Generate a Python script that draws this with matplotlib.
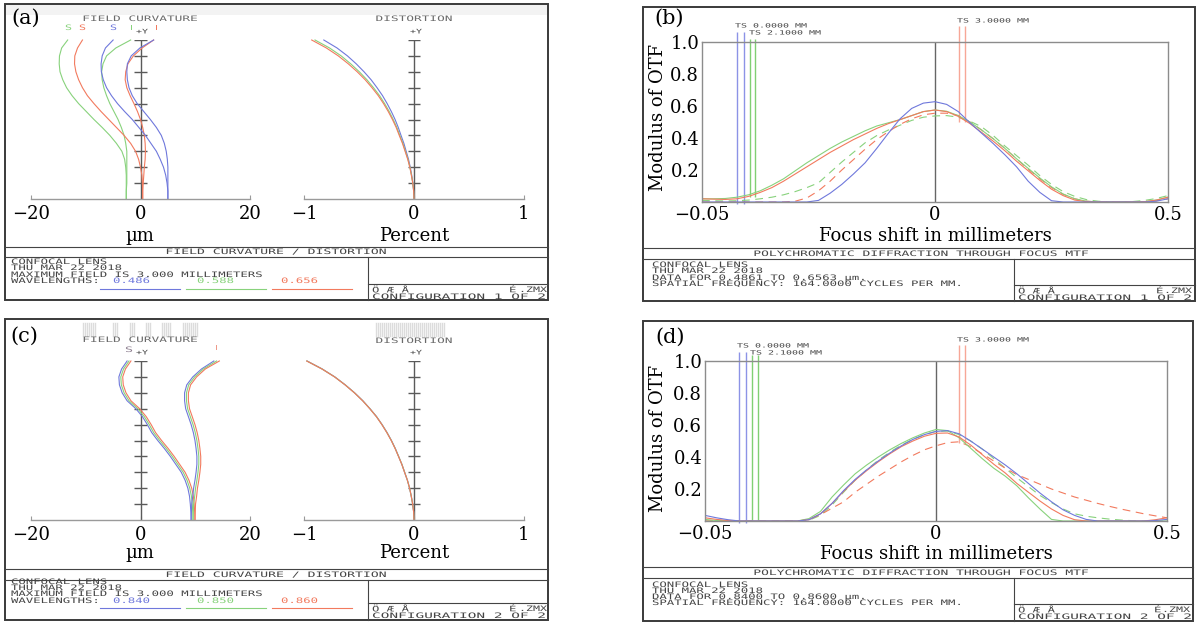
import numpy as np
import matplotlib
matplotlib.use('Agg')
import matplotlib.pyplot as plt
import matplotlib.patheffects as pe
from matplotlib.transforms import Affine2D
from matplotlib.patches import Rectangle
from matplotlib.lines import Line2D

# ---------------- values ----------------
field = [0.0, 0.05, 0.1, 0.15, 0.2, 0.25, 0.3, 0.35, 0.4, 0.45, 0.5,
         0.55, 0.6, 0.65, 0.7, 0.75, 0.8, 0.85, 0.9, 0.95, 1.0]   # relative +Y field

# (a) configuration 1, field curvature [um]
fc1_blue_S = [5.0, 5.0, 4.85, 4.6, 4.2, 3.6, 2.9, 1.9, 0.9, -0.3, -1.5,
              -2.9, -4.2, -5.3, -6.2, -6.8, -7.15, -7.2, -7.0, -6.4, -5.0]
fc1_blue_T = [5.0, 5.0, 5.0, 5.0, 5.0, 4.9, 4.7, 4.35, 3.8, 2.9, 1.8,
              0.6, -0.6, -1.5, -2.1, -2.4, -2.5, -2.4, -1.7, -0.1, 2.4]
fc1_green_S = [-2.6, -2.6, -2.6, -2.6, -2.7, -2.9, -3.4, -4.4, -5.6, -7.0, -8.5,
               -9.9, -11.3, -12.5, -13.5, -14.2, -14.7, -14.85, -14.8, -14.4, -13.3]
fc1_green_T = [-2.6, -2.6, -2.5, -2.5, -2.5, -2.5, -2.5, -2.7, -3.0, -3.5, -4.1,
               -4.85, -5.6, -6.2, -6.7, -7.0, -7.1, -6.85, -6.2, -4.5, -1.8]
fc1_red_S = [0.4, 0.4, 0.35, 0.25, 0.0, -0.35, -0.9, -1.8, -3.0, -4.4, -5.8,
             -7.2, -8.5, -9.7, -10.6, -11.3, -11.8, -12.05, -12.0, -11.5, -10.6]
fc1_red_T = [0.4, 0.4, 0.5, 0.6, 0.7, 0.85, 0.9, 0.85, 0.7, 0.4, 0.0,
             -0.55, -1.2, -1.9, -2.5, -2.8, -2.7, -2.3, -1.3, 0.3, 2.4]

# (a) configuration 1, distortion [%]
dist1_blue = [0, -0.003, -0.01, -0.021, -0.034, -0.05, -0.071, -0.092, -0.118, -0.143, -0.172,
              -0.206, -0.244, -0.286, -0.336, -0.39, -0.454, -0.525, -0.605, -0.70, -0.82]
dist1_green = [0, -0.003, -0.011, -0.023, -0.037, -0.055, -0.078, -0.101, -0.129, -0.156, -0.189,
               -0.225, -0.267, -0.313, -0.368, -0.428, -0.497, -0.575, -0.662, -0.768, -0.90]
dist1_red = [0, -0.003, -0.011, -0.024, -0.038, -0.057, -0.081, -0.105, -0.134, -0.162, -0.196,
             -0.234, -0.277, -0.325, -0.382, -0.444, -0.516, -0.597, -0.688, -0.797, -0.93]

# (c) configuration 2, field curvature [um]
fc2_blue_S = [9.25, 9.2, 9.1, 8.95, 8.65, 8.15, 7.45, 6.45, 5.45, 4.35, 3.15,
              2.05, 1.25, 0.35, -0.85, -2.45, -3.35, -3.85, -3.95, -3.45, -2.45]
fc2_green_S = [9.6, 9.55, 9.45, 9.3, 9.0, 8.5, 7.8, 6.8, 5.8, 4.7, 3.5,
               2.4, 1.6, 0.7, -0.5, -2.1, -3.0, -3.5, -3.6, -3.1, -2.1]
fc2_red_S = [9.95, 9.9, 9.8, 9.65, 9.35, 8.85, 8.15, 7.15, 6.15, 5.05, 3.85,
             2.75, 1.95, 1.05, -0.15, -1.75, -2.65, -3.15, -3.25, -2.75, -1.75]
fc2_blue_T = [9.25, 9.3, 9.35, 9.55, 9.7, 9.95, 10.15, 10.3, 10.3, 10.15, 9.95,
              9.65, 9.25, 8.75, 8.25, 8.05, 8.05, 8.45, 9.55, 11.15, 13.4]
fc2_green_T = [9.6, 9.65, 9.7, 9.9, 10.05, 10.3, 10.5, 10.65, 10.65, 10.5, 10.3,
               10.0, 9.6, 9.1, 8.6, 8.4, 8.4, 8.8, 9.9, 11.5, 13.9]
fc2_red_T = [9.95, 10.0, 10.05, 10.25, 10.4, 10.65, 10.85, 11.0, 11.0, 10.85, 10.65,
             10.35, 9.95, 9.45, 8.95, 8.75, 8.75, 9.15, 10.25, 11.85, 14.4]

# (c) configuration 2, distortion [%]
dist2_blue = [0, -0.003, -0.012, -0.025, -0.04, -0.06, -0.085, -0.11, -0.14, -0.17, -0.205,
              -0.245, -0.29, -0.34, -0.40, -0.465, -0.54, -0.625, -0.72, -0.835, -0.972]
dist2_green = [0, -0.003, -0.012, -0.025, -0.04, -0.06, -0.085, -0.11, -0.14, -0.171, -0.206,
               -0.246, -0.291, -0.341, -0.401, -0.466, -0.541, -0.626, -0.721, -0.836, -0.974]
dist2_red = [0, -0.003, -0.012, -0.025, -0.04, -0.06, -0.086, -0.111, -0.141, -0.172, -0.207,
             -0.247, -0.292, -0.342, -0.402, -0.467, -0.542, -0.627, -0.722, -0.837, -0.975]

# through-focus MTF, focus shift samples (plotted axis runs -0.5 .. 0.5)
focus = [-0.5, -0.475, -0.45, -0.425, -0.4, -0.375, -0.35, -0.325, -0.3, -0.275, -0.25,
         -0.225, -0.2, -0.175, -0.15, -0.125, -0.1, -0.075, -0.05, -0.025, 0.0,
         0.025, 0.05, 0.075, 0.1, 0.125, 0.15, 0.175, 0.2, 0.225, 0.25,
         0.275, 0.3, 0.325, 0.35, 0.375, 0.4, 0.425, 0.45, 0.475, 0.5]

mtf1_blue = [0, 0, 0, 0, 0, 0, 0, 0, 0, 0, 0.01,
             0.055, 0.11, 0.175, 0.245, 0.335, 0.43, 0.52, 0.585, 0.618, 0.627,
             0.61, 0.565, 0.495, 0.43, 0.365, 0.295, 0.22, 0.13, 0.06, 0.008,
             0, 0, 0, 0, 0, 0, 0, 0, 0.005, 0.02]
mtf1_green = [0.02, 0.02, 0.022, 0.03, 0.045, 0.07, 0.105, 0.145, 0.195, 0.245, 0.29,
              0.335, 0.375, 0.41, 0.445, 0.475, 0.495, 0.515, 0.54, 0.565, 0.575,
              0.567, 0.54, 0.5, 0.45, 0.395, 0.335, 0.27, 0.21, 0.15, 0.095,
              0.05, 0.02, 0.005, 0, 0, 0, 0, 0.002, 0.012, 0.03]
mtf1_green_d = [0.01, 0.008, 0.006, 0.008, 0.012, 0.02, 0.03, 0.045, 0.065, 0.09, 0.12,
                0.185, 0.25, 0.31, 0.37, 0.415, 0.45, 0.48, 0.51, 0.53, 0.538,
                0.54, 0.53, 0.505, 0.47, 0.415, 0.35, 0.29, 0.23, 0.165, 0.11,
                0.065, 0.035, 0.015, 0.005, 0, 0, 0.003, 0.01, 0.022, 0.04]
mtf1_red = [0.02, 0.018, 0.016, 0.02, 0.035, 0.06, 0.09, 0.13, 0.175, 0.22, 0.265,
            0.31, 0.35, 0.39, 0.425, 0.46, 0.49, 0.515, 0.54, 0.565, 0.575,
            0.565, 0.535, 0.49, 0.435, 0.38, 0.32, 0.255, 0.195, 0.135, 0.08,
            0.04, 0.012, 0.002, 0, 0, 0, 0, 0.002, 0.012, 0.03]
mtf1_red_d = [0, 0, 0, 0, 0, 0, 0, 0, 0.005, 0.025, 0.07,
              0.13, 0.2, 0.265, 0.33, 0.39, 0.44, 0.485, 0.52, 0.545, 0.555,
              0.555, 0.54, 0.5, 0.45, 0.395, 0.335, 0.27, 0.205, 0.145, 0.09,
              0.048, 0.02, 0.005, 0, 0, 0, 0, 0, 0.008, 0.02]

mtf2_blue = [0.035, 0.02, 0.008, 0, 0, 0, 0, 0, 0, 0.008, 0.045,
             0.11, 0.19, 0.26, 0.32, 0.375, 0.425, 0.47, 0.51, 0.54, 0.56,
             0.565, 0.545, 0.5, 0.45, 0.4, 0.35, 0.295, 0.235, 0.175, 0.12,
             0.07, 0.035, 0.01, 0, 0, 0, 0, 0, 0.003, 0.01]
mtf2_green = [0.01, 0.003, 0, 0, 0, 0, 0, 0, 0, 0.015, 0.06,
              0.15, 0.225, 0.295, 0.35, 0.4, 0.445, 0.485, 0.52, 0.55, 0.572,
              0.565, 0.52, 0.455, 0.39, 0.33, 0.28, 0.22, 0.145, 0.075, 0.01,
              0, 0, 0, 0, 0, 0, 0, 0, 0, 0]
mtf2_green_d = [0, 0, 0, 0, 0, 0, 0, 0, 0, 0.005, 0.035,
                0.1, 0.18, 0.255, 0.32, 0.38, 0.43, 0.475, 0.51, 0.54, 0.56,
                0.562, 0.54, 0.5, 0.45, 0.39, 0.33, 0.27, 0.215, 0.16, 0.115,
                0.075, 0.045, 0.03, 0.02, 0.012, 0.006, 0.002, 0, 0, 0]
mtf2_red = [0.02, 0.01, 0.003, 0, 0, 0, 0, 0, 0, 0.008, 0.045,
            0.11, 0.185, 0.255, 0.315, 0.37, 0.42, 0.465, 0.5, 0.53, 0.548,
            0.55, 0.525, 0.475, 0.415, 0.355, 0.3, 0.235, 0.18, 0.125, 0.075,
            0.035, 0.008, 0, 0, 0, 0, 0, 0, 0.008, 0.02]
mtf2_red_d = [0, 0, 0, 0, 0, 0, 0, 0, 0, 0.01, 0.04,
              0.08, 0.12, 0.18, 0.23, 0.28, 0.325, 0.37, 0.41, 0.445, 0.47,
              0.49, 0.495, 0.465, 0.42, 0.375, 0.33, 0.29, 0.26, 0.23, 0.2,
              0.175, 0.15, 0.13, 0.11, 0.092, 0.075, 0.06, 0.045, 0.032, 0.02]

# best-focus markers (TS 0.0 / 2.1 / 3.0 mm) and where they stop
ts1_blue, ts1_green, ts1_red = [-0.425, -0.41], [-0.397, -0.386], [0.0515, 0.064]
ts2_blue, ts2_green, ts2_red = [-0.426, -0.411], [-0.399, -0.385], [0.05, 0.062]
ts1_ends = [-0.01, 0.03, 0.5]
ts2_ends = [-0.01, 0.0, 0.49]

fc_ticks, fc_labels = [-20, 0, 20], ['\u221220', '0', '20']
dist_ticks, dist_labels = [-1, 0, 1], ['\u22121', '0', '1']
mtf_xticks, mtf_xlabels = [-0.5, 0, 0.5], ['\u22120.05', '0', '0.5']
mtf_yticks, mtf_ylabels = [0.2, 0.4, 0.6, 0.8, 1.0], ['0.2', '0.4', '0.6', '0.8', '1.0']

BLUE, GREEN, RED = '#6f78dc', '#88d27c', '#f27a5e'
LBLUE, LGREEN, LRED = '#8c93e6', '#80cf73', '#f7a797'
ZGRAY = '#444444'

# ---------------- figure helpers ----------------
W, H = 1202, 624
plt.rcParams['font.family'] = 'DejaVu Serif'
fig = plt.figure(figsize=(W / 100, H / 100), dpi=100)


def X(px):
    return px / W


def Y(py):
    return 1 - py / H


def add_ax(left, top, right, bottom):
    ax = fig.add_axes([X(left), Y(bottom), (right - left) / W, (bottom - top) / H])
    ax.patch.set_alpha(0)
    return ax


def hline(x0, x1, y, color=ZGRAY, lw=0.8):
    fig.add_artist(Line2D([X(x0), X(x1)], [Y(y), Y(y)], color=color, lw=lw))


def vline(x, y0, y1, color=ZGRAY, lw=0.8):
    fig.add_artist(Line2D([X(x), X(x)], [Y(y0), Y(y1)], color=color, lw=lw))


def frame(x0, y0, x1, y1):
    fig.add_artist(Rectangle((X(x0), Y(y1)), X(x1) - X(x0), Y(y0) - Y(y1),
                             fill=False, ec='#3a3a3a', lw=1.4))


class Stretch(pe.AbstractPathEffect):
    # widens the glyphs of a text around its start point (Zemax plotter font)
    def __init__(self, sx):
        super().__init__()
        self.sx = sx

    def draw_path(self, renderer, gc, tpath, affine, rgbFace=None):
        m = affine.get_matrix()
        tx, ty = m[0, 2], m[1, 2]
        a = affine + Affine2D().translate(-tx, -ty).scale(self.sx, 1).translate(tx, ty)
        renderer.draw_path(gc, tpath, a, rgbFace)


def ztext(x, y, s, color=ZGRAY, pitch=7.4, size=5.4, ha='left'):
    adv = 0.602 * size * 100 / 72
    if ha == 'center':
        x = x - pitch * len(s) / 2
    elif ha == 'right':
        x = x - pitch * len(s)
    fig.text(X(x), Y(y), s, fontsize=size, family='DejaVu Sans Mono', color=color,
             ha='left', va='center', path_effects=[Stretch(pitch / adv)])


def serif(x, y, s, size=13, **kw):
    fig.text(X(x), Y(y), s, fontsize=size, ha='center', va='center', color='black', **kw)


def field_axes(left, top, right, lim, ticks, labels, half):
    ax = add_ax(left, top, right, top + 159)
    ax.set_xlim(-lim, lim)
    ax.set_ylim(0, 1)
    for s in ['left', 'right', 'top']:
        ax.spines[s].set_visible(False)
    ax.spines['bottom'].set_color('#9a9a9a')
    ax.spines['bottom'].set_linewidth(1)
    ax.set_yticks([])
    ax.set_xticks(ticks)
    ax.set_xticklabels(labels)
    ax.tick_params(axis='x', direction='in', length=3, color='#9a9a9a', labelsize=13, pad=4)
    ax.axvline(0, color='#5a5a5a', lw=1)
    ax.hlines(np.arange(0.1, 1.01, 0.1), -half, half, color='#5a5a5a', lw=1)
    return ax


def mtf_axes(left, top, right, bottom):
    ax = add_ax(left, top, right, bottom)
    ax.set_xlim(-0.5, 0.5)
    ax.set_ylim(0, 1)
    for s in ax.spines.values():
        s.set_color('#8c8c8c')
        s.set_linewidth(1)
    ax.set_xticks(mtf_xticks)
    ax.set_xticklabels(mtf_xlabels)
    ax.set_yticks(mtf_yticks)
    ax.set_yticklabels(mtf_ylabels)
    ax.tick_params(length=0, labelsize=13)
    ax.tick_params(axis='x', pad=3)
    ax.tick_params(axis='y', pad=2)
    ax.axvline(0, color='#666666', lw=1)
    return ax


lw = 0.8
dash = (0, (7, 5))

# ---------------- (a) ----------------
fig.add_artist(Rectangle((X(6), Y(15)), X(547) - X(6), Y(5) - Y(15), color='#f3f3f3', lw=0))
frame(5, 4, 548, 300)
serif(26, 18, '(a)', size=15)
ax = field_axes(31, 40, 250, 20, fc_ticks, fc_labels, 1.1)
for vals, c in [(fc1_green_S, GREEN), (fc1_green_T, GREEN), (fc1_red_S, RED),
                (fc1_red_T, RED), (fc1_blue_S, BLUE), (fc1_blue_T, BLUE)]:
    ax.plot(vals, field, color=c, lw=lw, clip_on=False)
serif(140, 236, '\u00b5m')
ax = field_axes(304, 40, 524, 1, dist_ticks, dist_labels, 0.055)
for vals, c in [(dist1_blue, BLUE), (dist1_green, GREEN), (dist1_red, RED)]:
    ax.plot(vals, field, color=c, lw=lw, clip_on=False)
serif(414, 236, 'Percent')
ztext(140, 19, 'FIELD CURVATURE', color='#6a6a6a', pitch=7.7, ha='center')
ztext(414, 19, 'DISTORTION', color='#6a6a6a', pitch=7.7, ha='center')
ztext(136, 32, '+Y', size=4.6, pitch=6)
ztext(410, 32, '+Y', size=4.6, pitch=6)
for x, s, c in [(65, 'S', GREEN), (79, 'S', RED), (110, 'S', BLUE), (128, 'T', GREEN), (153, 'T', RED)]:
    ztext(x, 28, s, color=c, pitch=7)

hline(5, 548, 247)
hline(5, 548, 257)
vline(368, 257, 300)
hline(368, 548, 284)
ztext(276, 252, 'FIELD CURVATURE / DISTORTION', pitch=7.9, ha='center')
ztext(11, 262, 'CONFOCAL LENS')
ztext(11, 268, 'THU MAR 22 2018')
ztext(11, 275, 'MAXIMUM FIELD IS 3.000 MILLIMETERS')
ztext(11, 281, 'WAVELENGTHS:')
ztext(113, 281, '0.486', color=BLUE)
ztext(197, 281, '0.588', color=GREEN)
ztext(281, 281, '0.656', color=RED)
hline(100, 180, 289, color=BLUE)
hline(186, 266, 289, color=GREEN)
hline(272, 352, 289, color=RED)
ztext(372, 290, '\u00d6 \u00c6 \u00c5')
ztext(509, 290, '\u00c9')
ztext(547, 290, '.ZMX', pitch=7, ha='right')
ztext(372, 297, 'CONFIGURATION 1 OF 2', pitch=8.7)

# ---------------- (c) ----------------
frame(5, 319, 548, 620)
serif(24, 336, '(c)', size=15)
for x0, x1 in [(83, 97), (113, 118), (130, 135), (146, 151), (162, 171), (183, 198), (376, 446)]:
    for xx in np.arange(x0, x1, 2.0):
        vline(xx, 323, 336, color='#dcdcdc', lw=1)
ax = field_axes(31, 361, 250, 20, fc_ticks, fc_labels, 1.1)
for vals, c in [(fc2_blue_S, BLUE), (fc2_green_S, GREEN), (fc2_red_S, RED),
                (fc2_blue_T, BLUE), (fc2_green_T, GREEN), (fc2_red_T, RED)]:
    ax.plot(vals, field, color=c, lw=lw, clip_on=False)
serif(140, 553, '\u00b5m')
ax = field_axes(304, 361, 524, 1, dist_ticks, dist_labels, 0.055)
for vals, c in [(dist2_blue, BLUE), (dist2_green, GREEN), (dist2_red, RED)]:
    ax.plot(vals, field, color=c, lw=lw, clip_on=False)
serif(414, 553, 'Percent')
ztext(140, 340, 'FIELD CURVATURE', color='#6a6a6a', pitch=7.7, ha='center')
ztext(414, 341, 'DISTORTION', color='#6a6a6a', pitch=7.7, ha='center')
ztext(136, 353, '+Y', size=4.6, pitch=6)
ztext(410, 353, '+Y', size=4.6, pitch=6)
ztext(125, 350, 'S', color='#8c7d8e', pitch=8)
ztext(212, 348, 'T', color='#ee9a8a', pitch=8.5)

hline(5, 548, 569)
hline(5, 548, 580)
vline(368, 580, 620)
hline(368, 548, 603)
ztext(276, 575, 'FIELD CURVATURE / DISTORTION', pitch=7.9, ha='center')
ztext(11, 582, 'CONFOCAL LENS')
ztext(11, 588, 'THU MAR 22 2018')
ztext(11, 594, 'MAXIMUM FIELD IS 3.000 MILLIMETERS')
ztext(11, 601, 'WAVELENGTHS:')
ztext(113, 601, '0.840', color=BLUE)
ztext(197, 601, '0.850', color=GREEN)
ztext(281, 601, '0.860', color=RED)
hline(100, 180, 608, color=BLUE)
hline(186, 266, 608, color=GREEN)
hline(272, 352, 608, color=RED)
ztext(372, 609, '\u00d6 \u00c6 \u00c5')
ztext(509, 609, '\u00c9')
ztext(547, 609, '.ZMX', pitch=7, ha='right')
ztext(372, 616, 'CONFIGURATION 2 OF 2', pitch=8.7)

# ---------------- (b) ----------------
frame(643, 7, 1195, 301)
serif(669, 18, '(b)', size=15)
ax = mtf_axes(702, 42, 1168, 202)
ax.vlines(ts1_blue, ts1_ends[0], 1.0625, color=LBLUE, lw=1, clip_on=False)
ax.vlines(ts1_green, ts1_ends[1], 1.02, color=LGREEN, lw=1, clip_on=False)
ax.vlines(ts1_red, ts1_ends[2], 1.1, color=LRED, lw=1, clip_on=False)
ax.plot(focus, mtf1_green_d, color=GREEN, lw=lw, ls=dash)
ax.plot(focus, mtf1_red_d, color=RED, lw=lw, ls=dash)
ax.plot(focus, mtf1_green, color=GREEN, lw=lw)
ax.plot(focus, mtf1_red, color=RED, lw=lw)
ax.plot(focus, mtf1_blue, color=BLUE, lw=lw)
serif(935, 236, 'Focus shift in millimeters')
serif(658, 117, 'Modulus of OTF', rotation=90)
ztext(735, 26, 'TS 0.0000 MM', size=4.2, pitch=6)
ztext(749, 33, 'TS 2.1000 MM', size=4.2, pitch=6)
ztext(957, 21, 'TS 3.0000 MM', size=4.2, pitch=6)

hline(643, 1195, 248)
hline(643, 1195, 259)
vline(1014, 259, 301)
hline(1014, 1195, 285)
ztext(921, 254, 'POLYCHROMATIC DIFFRACTION THROUGH FOCUS MTF', pitch=7.8, ha='center')
ztext(652, 265, 'CONFOCAL LENS')
ztext(652, 271, 'THU MAR 22 2018')
ztext(652, 278, 'DATA FOR 0.4861 TO 0.6563 \u00b5m.')
ztext(652, 284, 'SPATIAL FREQUENCY: 164.0000 CYCLES PER MM.')
ztext(1018, 291, '\u00d6 \u00c6 \u00c5')
ztext(1156, 291, '\u00c9')
ztext(1192, 291, '.ZMX', pitch=7, ha='right')
ztext(1018, 298, 'CONFIGURATION 1 OF 2', pitch=8.7)

# ---------------- (d) ----------------
frame(643, 321, 1193, 621)
serif(670, 337, '(d)', size=15)
ax = mtf_axes(705, 361, 1167, 521)
ax.vlines(ts2_blue, ts2_ends[0], 1.054, color=LBLUE, lw=1, clip_on=False)
ax.vlines(ts2_green, ts2_ends[1], 1.04, color=LGREEN, lw=1, clip_on=False)
ax.vlines(ts2_red, ts2_ends[2], 1.098, color=LRED, lw=1, clip_on=False)
ax.plot(focus, mtf2_green_d, color=GREEN, lw=lw, ls=dash)
ax.plot(focus, mtf2_red_d, color=RED, lw=lw, ls=dash)
ax.plot(focus, mtf2_green, color=GREEN, lw=lw)
ax.plot(focus, mtf2_red, color=RED, lw=lw)
ax.plot(focus, mtf2_blue, color=BLUE, lw=lw)
serif(936, 554, 'Focus shift in millimeters')
serif(658, 438, 'Modulus of OTF', rotation=90)
ztext(737, 346, 'TS 0.0000 MM', size=4.2, pitch=6)
ztext(750, 353, 'TS 2.1000 MM', size=4.2, pitch=6)
ztext(957, 340, 'TS 3.0000 MM', size=4.2, pitch=6)

hline(643, 1193, 567)
hline(643, 1193, 578)
vline(1014, 578, 621)
hline(1014, 1193, 604)
ztext(921, 573, 'POLYCHROMATIC DIFFRACTION THROUGH FOCUS MTF', pitch=7.8, ha='center')
ztext(652, 585, 'CONFOCAL LENS')
ztext(652, 591, 'THU MAR 22 2018')
ztext(652, 597, 'DATA FOR 0.8400 TO 0.8600 \u00b5m.')
ztext(652, 603, 'SPATIAL FREQUENCY: 164.0000 CYCLES PER MM.')
ztext(1018, 610, '\u00d6 \u00c6 \u00c5')
ztext(1154, 610, '\u00c9')
ztext(1190, 610, '.ZMX', pitch=7, ha='right')
ztext(1018, 617, 'CONFIGURATION 2 OF 2', pitch=8.7)

fig.savefig('out.png', dpi=100)
